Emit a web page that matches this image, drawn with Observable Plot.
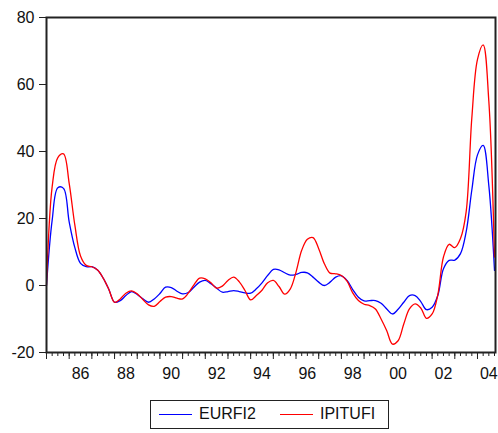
<!DOCTYPE html>
<html>
<head>
<meta charset="utf-8">
<script src="https://cdn.jsdelivr.net/npm/d3@7"></script>
<script src="https://cdn.jsdelivr.net/npm/@observablehq/plot@0.6"></script>
<style>
  body { margin: 0; background: #fff; font-family: "Liberation Sans", Arial, sans-serif; }
  #wrap { position: relative; width: 498px; height: 433px; }
  #legend { position: absolute; left: 150px; top: 400px; width: 239px; height: 29px;
            border: 1px solid #222; box-sizing: border-box; font-size: 16px; color: #111; }
  .item { position: absolute; top: 4px; display: flex; align-items: center; }
  .sw { display: inline-block; width: 33px; height: 0; border-top: 1.5px solid; margin-right: 7px; }
</style>
</head>
<body>
<div id="wrap">
  <div id="chart"></div>
  <div id="legend"></div>
</div>
<script>
// Quarterly observations 1985Q1 .. 2004Q4
const startYear = 1985;
const eurfi2 = [0, 19.5, 29.2, 29.0, 19, 11.3, 6.6, 5.6, 5.6, 4.6,
  2.2, -1.2, -5.0, -4.5, -3.0, -1.8, -2.7, -4.0, -5.0, -4.0,
  -2.4, -0.5, -0.6, -1.7, -2.5, -2.1, -0.5, 1.0, 1.5, 0.5,
  -0.8, -2.0, -1.8, -1.5, -1.8, -2.2, -2.3, -1.0, 0.8, 3.0,
  4.8, 4.7, 3.8, 3.1, 3.3, 3.9, 3.8, 2.5, 1.0, 0.0,
  1.0, 2.5, 2.9, 1.5, -1.2, -3.5, -4.6, -4.5, -4.5, -5.3,
  -7.0, -8.5, -7.1, -5.0, -3.0, -3.0, -4.8, -7.2, -6.5, -3.0,
  5.0, 7.5, 7.6, 9.5, 16, 28.5, 39, 41.8, 29.8, 4.5];
const ipitufi = [0, 29.5, 38.2, 39.3, 30.5, 18, 8.8, 6.0, 5.6, 4.6,
  2.2, -1.2, -5.0, -4.0, -2.3, -1.6, -2.5, -4.2, -5.8, -6.2,
  -4.8, -3.5, -3.3, -3.8, -4.0, -2.3, 0.2, 2.2, 2.0, 0.8,
  -0.8, -0.2, 1.5, 2.5, 1.1, -1.5, -4.3, -3.0, -1.4, 0.8,
  1.5, -0.3, -2.6, -1.0, 4.0, 10.5, 13.8, 14.3, 11.0, 6.5,
  3.7, 3.5, 3.0, 1.3, -2.2, -4.5, -5.6, -6.0, -7.0, -10.0,
  -13.5, -17.5, -16.5, -11.5, -7.0, -5.5, -6.7, -9.8, -8.5, -2.8,
  8.5, 12.3, 11.3, 14, 22, 50, 67.5, 71.8, 55, 8.5];
const yTicks = [-20, 0, 20, 40, 60, 80];
const yearLabels = ["86", "88", "90", "92", "94", "96", "98", "00", "02", "04"];
const labelYears = [1986, 1988, 1990, 1992, 1994, 1996, 1998, 2000, 2002, 2004];
const seriesNames = ["EURFI2", "IPITUFI"];
const seriesColors = ["#0000ff", "#ff0000"];

const rows = [];
eurfi2.forEach((v, i) => rows.push({t: startYear + i / 4, v, s: seriesNames[0]}));
ipitufi.forEach((v, i) => rows.push({t: startYear + i / 4, v, s: seriesNames[1]}));

const quarterTicks = d3.range(0, 80).map(i => startYear + i / 4);
const yearTicks = d3.range(1985, 2005);
const labelPos = labelYears.map(y => y + 0.5);

const chart = Plot.plot({
  width: 498,
  height: 395,
  marginTop: 17,
  marginBottom: 43,
  marginLeft: 46,
  marginRight: 3,
  style: {fontFamily: "'Liberation Sans', Arial, sans-serif", fontSize: "16px", color: "#111", background: "#fff"},
  x: {domain: [1985, 2004.794]},
  y: {domain: [-20, 80]},
  color: {domain: seriesNames, range: seriesColors},
  marks: [
    Plot.axisY({ticks: yTicks, tickSize: 7, tickPadding: 5, tickFormat: d => String(d), label: null, fontSize: 16, stroke: "#222"}),
    Plot.axisX({ticks: quarterTicks, tickSize: 4, tickFormat: () => "", label: null, stroke: "#222"}),
    Plot.axisX({ticks: yearTicks, tickSize: 7, tickFormat: () => "", label: null, stroke: "#222"}),
    Plot.axisX({ticks: labelPos, tickSize: 0, tickPadding: 15, tickFormat: d => yearLabels[labelPos.indexOf(d)], label: null, fontSize: 16}),
    Plot.line(rows, {x: "t", y: "v", z: "s", stroke: "s", strokeWidth: 1.3, curve: "catmull-rom"}),
    Plot.frame({stroke: "#222", strokeWidth: 2})
  ]
});
document.getElementById("chart").appendChild(chart);

const legend = document.getElementById("legend");
const lefts = [8, 129];
seriesNames.forEach((n, i) => {
  const d = document.createElement("div");
  d.className = "item";
  d.style.left = lefts[i] + "px";
  d.innerHTML = `<span class="sw" style="border-color:${seriesColors[i]}"></span><span>${n}</span>`;
  legend.appendChild(d);
});
</script>
</body>
</html>
